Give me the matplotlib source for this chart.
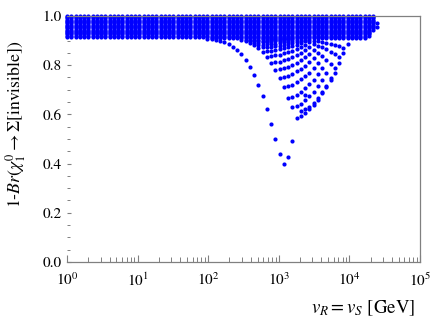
import numpy as np
import matplotlib
matplotlib.use('Agg')
import matplotlib.pyplot as plt
from matplotlib.ticker import MultipleLocator, FormatStrFormatter, LogLocator, LogFormatterMathtext

plt.rcParams['font.family'] = 'STIXGeneral'
plt.rcParams['mathtext.fontset'] = 'stix'

# scan columns v_R = v_S [GeV]
vR = [1.0, 1.149, 1.320, 1.516, 1.741, 2.0, 2.297, 2.639, 3.031, 3.482,
      4.0, 4.595, 5.278, 6.063, 6.964, 8.0, 9.190, 10.56, 12.13, 13.93,
      16.0, 18.38, 21.11, 24.25, 27.86, 32.0, 36.76, 42.22, 48.50, 55.72,
      64.0, 73.52, 84.45, 97.01, 111.4, 128.0, 147.0, 168.9, 194.0, 222.9,
      256.0, 294.1, 337.8, 388.0, 445.7, 512.0, 588.1, 675.6, 776.0, 891.4,
      1024, 1176, 1351, 1552, 1783, 2048, 2353, 2702, 3104, 3566,
      4096, 4705, 5405, 6208, 7132, 8192, 9410, 10809, 12417, 14263,
      16384, 18820, 21619, 24834]

# dense band near 1: lowest point of each column, and the levels filled
band_bottom = [0.915] * 34 + [0.91] * 37 + [0.92, 0.945]
band_levels = [0.91, 0.915, 0.92, 0.925, 0.93, 0.935, 0.94, 0.945, 0.95, 0.955,
               0.96, 0.965, 0.97, 0.975, 0.98, 0.985, 0.99, 0.995, 1.0]
last_col_y = [0.955, 0.97]

# branches leaving the band (first column index, values)
branch_start = [33, 41, 42, 43, 44, 45, 46, 47, 48, 49, 50, 51, 56]
branch_y = [
    [.907, .905, .903, .90, .893, .886, .875, .861, .844, .82, .794, .759, .72,
     .674, .621, .561, .50, .438, .398, .426, .493],
    [.902, .897, .89, .882, .87, .855, .835, .81, .78, .748, .71, .668, .629, .587, .615, .68],
    [.902, .897, .891, .882, .872, .856, .837, .812, .783, .752, .714, .672, .634, .593, .62],
    [.902, .898, .892, .883, .873, .858, .84, .815, .788, .757, .72, .68, .644, .604, .63],
    [.903, .898, .893, .885, .875, .861, .843, .82, .794, .765, .73, .693, .658, .62, .645],
    [.903, .899, .894, .887, .878, .864, .848, .826, .802, .775, .743, .708, .675, .64, .665],
    [.906, .90, .895, .888, .88, .868, .853, .833, .81, .785, .755, .723, .693, .66, .69],
    [.904, .901, .897, .89, .883, .872, .858, .84, .82, .798, .77, .741, .714, .685, .71],
    [.905, .902, .898, .893, .887, .877, .865, .85, .832, .813, .789, .764, .74, .715, .74],
    [.906, .904, .90, .896, .891, .882, .873, .86, .845, .829, .81, .789, .769, .748, .77],
    [.907, .905, .903, .90, .896, .89, .882, .873, .862, .85, .836, .82, .806, .79, .81],
    [.908, .907, .906, .903, .90, .897, .893, .887, .88, .873, .864, .854, .845, .835, .85],
    [.904, .902, .90, .898, .895, .892, .888, .883, .877, .87, .885],
]

fig = plt.figure(figsize=(4.36, 3.27), dpi=100)
ax = fig.add_axes([0.1537, 0.1988, 0.8096, 0.7523])

xs, ys = [], []
for i, b in enumerate(band_bottom):
    for lv in band_levels:
        if lv >= b - 1e-9:
            xs.append(vR[i])
            ys.append(lv)
for v in last_col_y:
    xs.append(vR[73])
    ys.append(v)
for s, yy in zip(branch_start, branch_y):
    for j, v in enumerate(yy):
        xs.append(vR[s + j])
        ys.append(v)

ax.plot(xs, ys, 'o', color='#0000ff', ms=3.0, mew=0, clip_on=False)

ax.set_xscale('log')
ax.set_xlim(1, 1e5)
ax.set_ylim(0, 1.0)

ax.xaxis.set_major_locator(LogLocator(base=10, numticks=10))
ax.xaxis.set_major_formatter(LogFormatterMathtext())
ax.xaxis.set_minor_locator(LogLocator(base=10, subs=np.arange(2, 10), numticks=20))
ax.yaxis.set_major_locator(MultipleLocator(0.2))
ax.yaxis.set_minor_locator(MultipleLocator(0.05))
ax.yaxis.set_major_formatter(FormatStrFormatter('%.1f'))

gray = '#808080'
ax.spines['left'].set_visible(False)
for sp in ['bottom', 'top', 'right']:
    ax.spines[sp].set_color(gray)
    ax.spines[sp].set_linewidth(0.9)
ax.tick_params(axis='x', which='major', direction='in', length=5, width=0.8, color=gray,
               labelsize=11, pad=7, top=False)
ax.tick_params(axis='x', which='minor', direction='in', length=3.3, width=0.7, color=gray, top=False)
ax.tick_params(axis='y', which='major', direction='in', length=3.2, width=0.8, color=gray,
               labelsize=11, pad=4, right=False)
ax.tick_params(axis='y', which='minor', direction='in', length=1.8, width=0.7, color=gray, right=False)

fig.text(415 / 436, 1 - 308 / 327, r'$v_R = v_S$ [GeV]', ha='right', va='center', fontsize=13.5)
fig.text(16 / 436, 1 - 124 / 327, r'1-$Br(\chi_1^0 \rightarrow \Sigma$[invisible]$)$',
         rotation=90, ha='center', va='center', fontsize=12.8)

fig.savefig('out.png', dpi=100)
